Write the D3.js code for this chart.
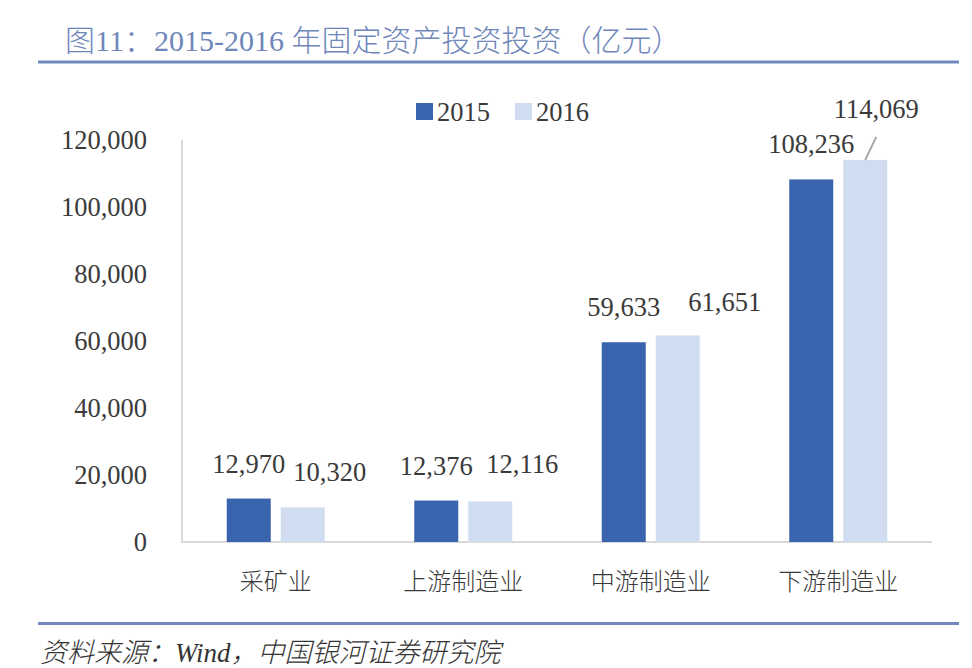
<!DOCTYPE html>
<html><head><meta charset="utf-8">
<script src="https://cdn.jsdelivr.net/npm/d3@7"></script>
<style>
html,body{margin:0;padding:0;background:#fff;}
svg{display:block;}
</style></head>
<body>
<svg id="chart" width="972" height="668"></svg>
<script>
const categories = ["采矿业", "上游制造业", "中游制造业", "下游制造业"];
const seriesNames = ["2015", "2016"];
const values2015 = [12970, 12376, 59633, 108236];
const values2016 = [10320, 12116, 61651, 114069];
const yTicks = [0, 20000, 40000, 60000, 80000, 100000, 120000];
const titleText = "图11：2015-2016 年固定资产投资投资（亿元）";
const sourceText = "资料来源：Wind，中国银河证券研究院";

// label nudges (layout only)
const labelNudge2015 = [[0,0],[0,0],[0,0],[0,0]];
const labelNudge2016 = [[27,0],[32,-2],[47,2],[11,-16]];

const colors = {"2015": "#3A64AD", "2016": "#D0DDF0"};
const numFont = "'Liberation Serif', 'Noto Sans CJK SC', serif";
const cjkFont = "'Noto Sans CJK SC', 'Liberation Serif', sans-serif";
const textColor = "#3A3A3A";

const svg = d3.select("#chart");
const plotLeft = 182, plotRight = 932, plotTop = 140, plotBottom = 542;

// title
svg.append("text").attr("x", 65).attr("y", 51)
  .attr("font-family", numFont).attr("font-size", 30).attr("font-weight", 300)
  .attr("fill", "#6E86BA").text(titleText);
svg.append("rect").attr("x", 38).attr("y", 60.5).attr("width", 921).attr("height", 3).attr("fill", "#7189BE");

// footer
svg.append("rect").attr("x", 38).attr("y", 622).attr("width", 921).attr("height", 3).attr("fill", "#7189BE");
svg.append("text").attr("x", 40).attr("y", 662)
  .attr("font-family", numFont).attr("font-size", 27).attr("font-style", "italic").attr("font-weight", 300)
  .attr("fill", "#333").text(sourceText);

const y = d3.scaleLinear().domain([0, 120000]).range([plotBottom, plotTop]);
const x0 = d3.scaleBand().domain(categories).range([plotLeft, plotRight]).padding(0);
const groupW = 98;
const x1 = d3.scaleBand().domain(seriesNames).range([0, groupW]).paddingInner(10/54).paddingOuter(0);
const groupOffset = (x0.bandwidth() - groupW) / 2;

const fmt = d3.format(",");

// y axis labels
const yAxis = d3.axisLeft(y).tickValues(yTicks).tickFormat(fmt).tickSize(0).tickPadding(35);
const yg = svg.append("g").attr("transform", `translate(${plotLeft},0)`).call(yAxis);
yg.select(".domain").remove();
yg.selectAll("text").attr("font-family", numFont).attr("font-size", 26.5).attr("fill", textColor).attr("dy", "0.33em");

// axis lines
svg.append("path").attr("d", `M${plotLeft},${plotTop}V${plotBottom}H${plotRight}`)
  .attr("fill", "none").attr("stroke", "#D9D9D9").attr("stroke-width", 2);

// x axis labels
const xAxis = d3.axisBottom(x0).tickSize(0).tickPadding(31);
const xg = svg.append("g").attr("transform", `translate(0,${plotBottom})`).call(xAxis);
xg.select(".domain").remove();
xg.selectAll("text").attr("font-family", cjkFont).attr("font-size", 24).attr("font-weight", 300).attr("fill", textColor);

// bars
const seriesData = [values2015, values2016];
const nudges = [labelNudge2015, labelNudge2016];
seriesNames.forEach((s, si) => {
  const g = svg.append("g");
  const data = categories.map((c, i) => ({c, v: seriesData[si][i], n: nudges[si][i]}));
  g.selectAll("rect").data(data).join("rect")
    .attr("x", d => x0(d.c) + groupOffset + x1(s))
    .attr("y", d => y(d.v))
    .attr("width", x1.bandwidth())
    .attr("height", d => y(0) - y(d.v))
    .attr("fill", colors[s]);
  g.selectAll("text").data(data).join("text")
    .attr("x", d => x0(d.c) + groupOffset + x1(s) + x1.bandwidth()/2 + d.n[0])
    .attr("y", d => y(d.v) - 26 + d.n[1])
    .attr("text-anchor", "middle")
    .attr("font-family", numFont).attr("font-size", 26.5).attr("fill", textColor)
    .text(d => fmt(d.v));
});

// leader line for last 2016 label
{
  const i = 3;
  const bx = x0(categories[i]) + groupOffset + x1("2016") + x1.bandwidth()/2;
  const by = y(values2016[i]);
  svg.append("line").attr("x1", bx).attr("y1", by)
    .attr("x2", bx + 11).attr("y2", by - 23)
    .attr("stroke", "#A6A6A6").attr("stroke-width", 2);
}

// legend
const legend = svg.append("g").attr("transform", "translate(416,103)");
seriesNames.forEach((s, i) => {
  const gx = i * 99;
  legend.append("rect").attr("x", gx).attr("y", 0).attr("width", 17).attr("height", 17).attr("fill", colors[s]);
  legend.append("text").attr("x", gx + 21).attr("y", 17.5)
    .attr("font-family", numFont).attr("font-size", 26.5).attr("fill", textColor).text(s);
});
</script>
</body></html>
